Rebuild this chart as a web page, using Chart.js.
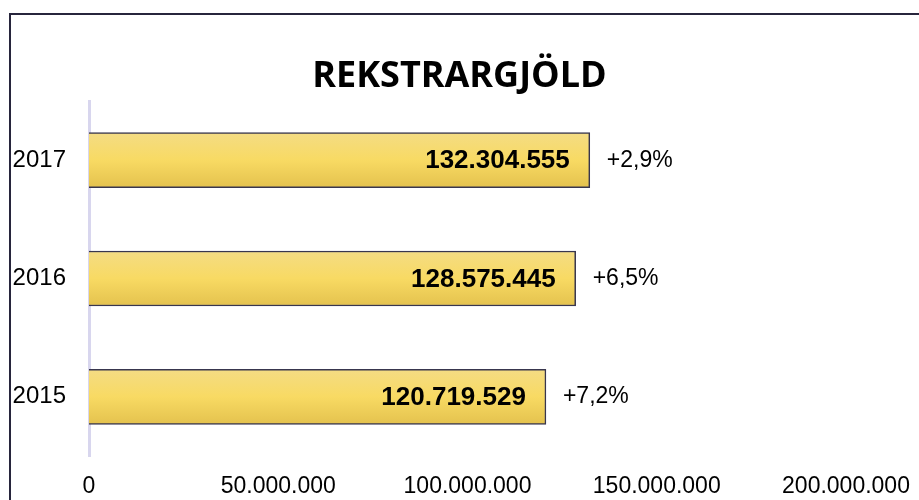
<!DOCTYPE html>
<html>
<head>
<meta charset="utf-8">
<script src="https://cdn.jsdelivr.net/npm/chart.js@4.4.1/dist/chart.umd.min.js"></script>
<style>
  html, body { margin: 0; padding: 0; background: #fff; overflow: hidden; }
  #wrap { position: relative; width: 919px; height: 500px; }
  #frame { position: absolute; left: 9px; top: 13px; width: 940px; height: 520px;
           border-top: 2px solid #27253c; border-left: 2px solid #27253c; }
  #title { position: absolute; left: 0; top: 56px; width: 919px; text-align: center;
           font: bold 36px "Open Sans", sans-serif; line-height: 1; color: #000; margin: 0; }
  #chartBox { position: absolute; left: 0; top: 0; width: 919px; height: 500px; }
</style>
</head>
<body>
<div id="wrap">
  <div id="frame"></div>
  <div id="chartBox"><canvas id="c"></canvas></div>
  <h1 id="title">REKSTRARGJÖLD</h1>
</div>
<script>
// Rekstrargjöld eftir árum
const years = ['2017', '2016', '2015'];
const costs = [132304555, 128575445, 120719529];
const changes = ['+2,9%', '+6,5%', '+7,2%'];
const xTicks = [0, 50000000, 100000000, 150000000, 200000000];

function fmt(n) {
    return String(n).replace(/\B(?=(\d{3})+(?!\d))/g, '.');
}

const BAR_H = 55;

function barFill(ctx) {
    const chart = ctx.chart;
    if (!chart.chartArea) return '#f7d964';
    const y = chart.scales.y.getPixelForValue(ctx.dataIndex);
    const g = chart.ctx.createLinearGradient(0, y - BAR_H / 2, 0, y + BAR_H / 2);
    g.addColorStop(0, '#f4dc84');
    g.addColorStop(0.5, '#f8da63');
    g.addColorStop(1, '#e4c24e');
    return g;
}

// numbers inside the bar + change outside
const barLabels = {
    id: 'barLabels',
    afterDatasetsDraw(chart) {
        const c = chart.ctx;
        const meta = chart.getDatasetMeta(0);
        c.save();
        c.textBaseline = 'middle';
        meta.data.forEach((bar, i) => {
            c.fillStyle = '#000';
            c.font = 'bold 26px "Liberation Sans", Arial, sans-serif';
            c.textAlign = 'right';
            c.fillText(fmt(costs[i]), bar.x - 20, bar.y + 1);
            c.font = '23px "Liberation Sans", Arial, sans-serif';
            c.textAlign = 'left';
            c.fillText(changes[i], bar.x + 17, bar.y);
        });
        c.restore();
    }
};

new Chart(document.getElementById('c'), {
    type: 'bar',
    data: {
        labels: years,
        datasets: [{
            data: costs,
            backgroundColor: barFill,
            borderColor: '#38364e',
            borderWidth: 1.5,
            barThickness: BAR_H
        }]
    },
    options: {
        indexAxis: 'y',
        responsive: true,
        maintainAspectRatio: false,
        animation: false,
        layout: { padding: { top: 101, left: 13, right: 73, bottom: 0 } },
        plugins: {
            legend: { display: false },
            title: { display: false },
            tooltip: { enabled: false }
        },
        scales: {
            x: {
                min: 0,
                max: 200000000,
                afterBuildTicks: s => { s.ticks = xTicks.map(v => ({ value: v })); },
                afterFit: s => { s.height = 44; s.paddingLeft = 0; s.paddingRight = 0; },
                grid: { display: false, drawTicks: false },
                border: { display: false },
                ticks: {
                    padding: 17,
                    color: '#000',
                    maxRotation: 0,
                    font: { family: '"Liberation Sans", Arial, sans-serif', size: 23 },
                    callback: v => fmt(v)
                }
            },
            y: {
                afterFit: s => { s.width = 76; },
                grid: { display: false, drawTicks: false },
                border: { display: true, color: '#d8d6ee', width: 3 },
                ticks: {
                    padding: 23,
                    color: '#000',
                    font: { family: '"Liberation Sans", Arial, sans-serif', size: 24 }
                }
            }
        }
    },
    plugins: [barLabels]
});
</script>
</body>
</html>
